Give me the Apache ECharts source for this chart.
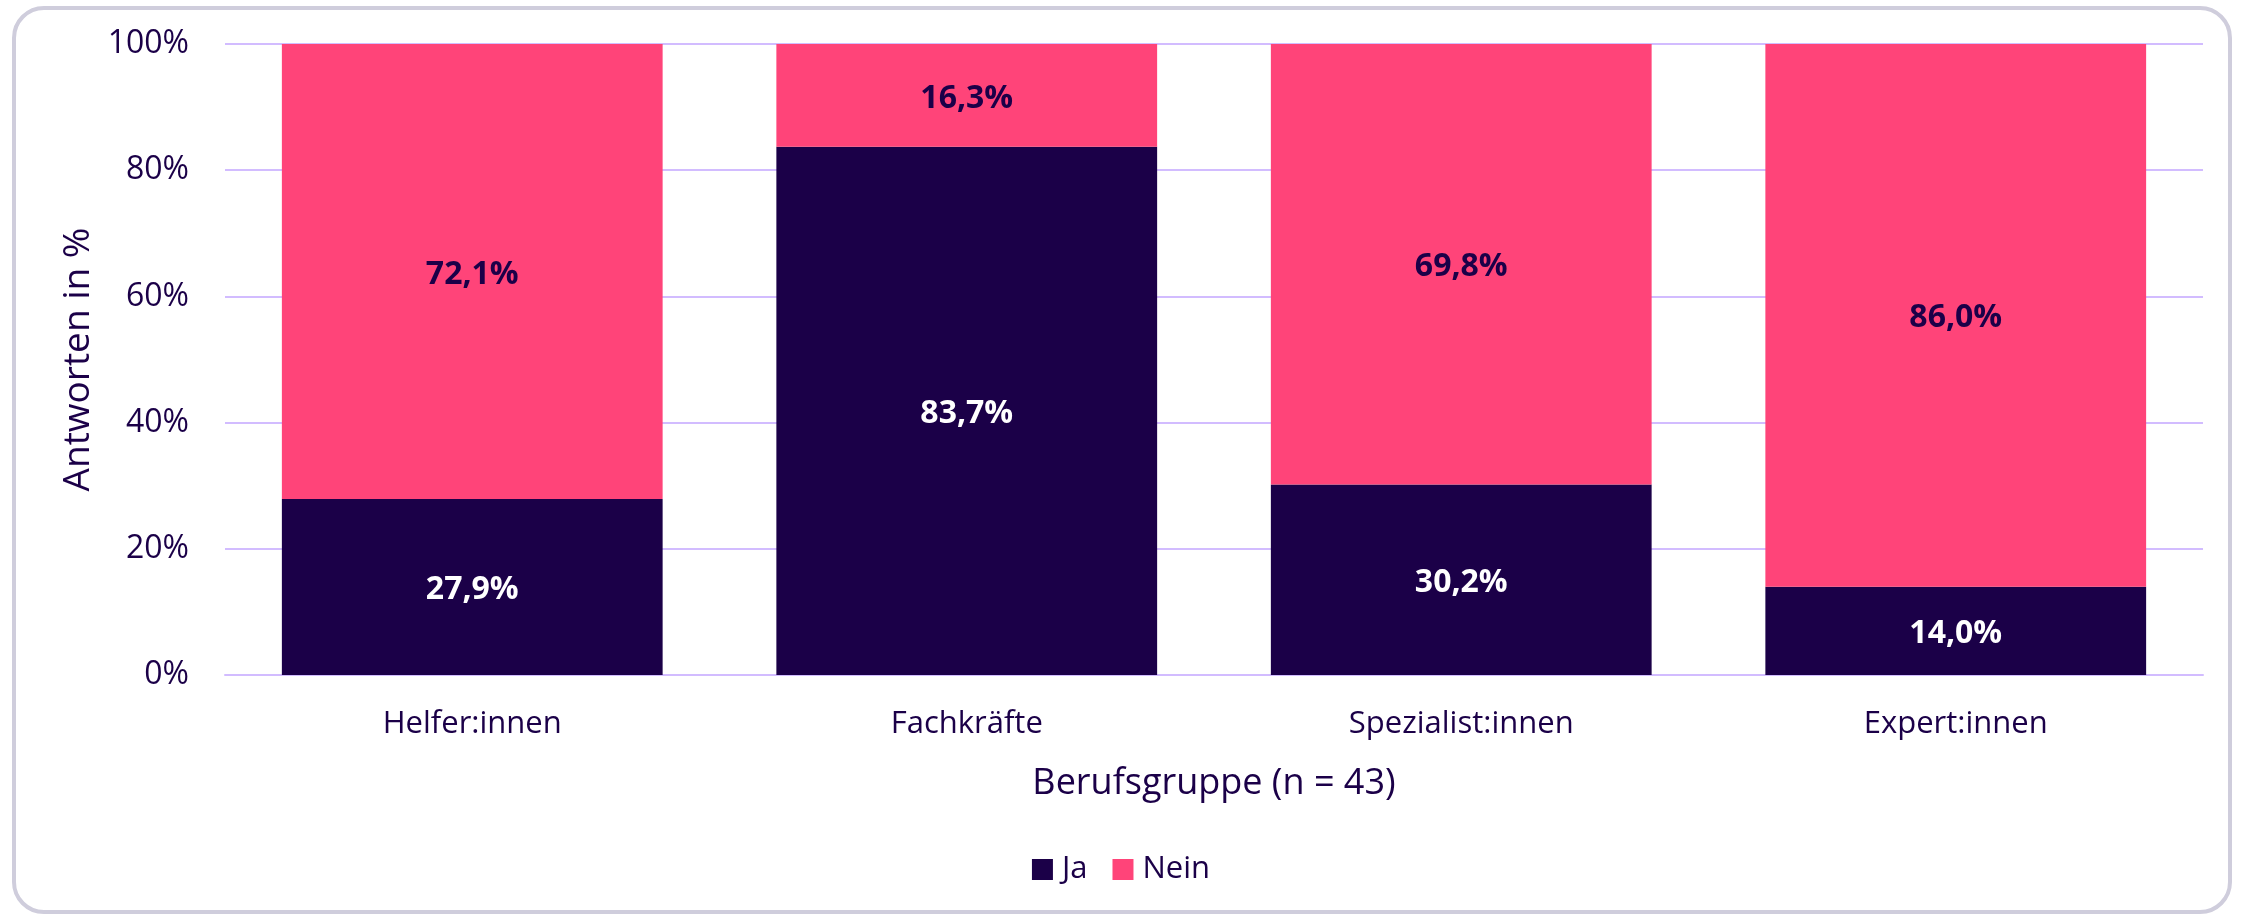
<!DOCTYPE html>
<html>
<head>
<meta charset="utf-8">
<script src="https://cdn.jsdelivr.net/npm/echarts@6/dist/echarts.min.js"></script>
<style>
  html, body { margin: 0; padding: 0; background: #fff; }
  #chart { width: 2242px; height: 916px; }
</style>
</head>
<body>
<div id="chart"></div>
<script>
// Berufsgruppen und Antworten (in %)
var categories = ['Helfer:innen', 'Fachkräfte', 'Spezialist:innen', 'Expert:innen'];
var jaValues = [27.9, 83.7, 30.2, 14.0];
var neinValues = [72.1, 16.3, 69.8, 86.0];
var yTicks = [0, 20, 40, 60, 80, 100];

var dark = '#1b0048';
var pink = '#ff4479';
var gridColor = '#d2bcff';
var font = 'Open Sans';

function pct(p) {
    return p.value.toFixed(1).replace('.', ',') + '%';
}

var myChart = echarts.init(document.getElementById('chart'));

var option = {
    animation: false,
    textStyle: { fontFamily: font, color: dark },
    graphic: [{
        type: 'rect',
        shape: { x: 14, y: 8, width: 2216, height: 904, r: 30 },
        style: { fill: 'none', stroke: '#cfcddc', lineWidth: 4 },
        z: -1
    }],
    grid: { left: 225, right: 39, top: 44, bottom: 241 },
    legend: {
        data: ['Ja', 'Nein'],
        bottom: 26,
        left: 'center',
        itemWidth: 21,
        itemHeight: 21,
        itemGap: 25,
        icon: 'rect',
        textStyle: { fontFamily: font, fontSize: 31, color: dark, padding: [0, 0, 0, 4] }
    },
    xAxis: {
        type: 'category',
        data: categories,
        name: 'Berufsgruppe (n = 43)',
        nameLocation: 'middle',
        nameGap: 91,
        nameTextStyle: { fontFamily: font, fontSize: 36, color: dark },
        axisLine: { lineStyle: { color: gridColor, width: 2 } },
        axisTick: { show: false },
        axisLabel: { margin: 34, fontFamily: font, fontSize: 31, color: dark }
    },
    yAxis: {
        type: 'value',
        min: yTicks[0],
        max: yTicks[yTicks.length - 1],
        interval: 20,
        name: 'Antworten in %',
        nameLocation: 'middle',
        nameGap: 128,
        nameTextStyle: { fontFamily: font, fontSize: 37, color: dark },
        axisLine: { show: false },
        axisTick: { show: false },
        splitLine: { lineStyle: { color: gridColor, width: 2 } },
        axisLabel: { margin: 36, fontFamily: font, fontSize: 32, color: dark, formatter: '{value}%' }
    },
    series: [
        {
            name: 'Ja',
            type: 'bar',
            stack: 'total',
            data: jaValues,
            barCategoryGap: '23%',
            itemStyle: { color: dark },
            label: {
                show: true, position: 'inside', formatter: pct, offset: [0, 3],
                fontFamily: font, fontSize: 32, fontWeight: 'bold', color: '#ffffff'
            }
        },
        {
            name: 'Nein',
            type: 'bar',
            stack: 'total',
            data: neinValues,
            barCategoryGap: '23%',
            itemStyle: { color: pink },
            label: {
                show: true, position: 'inside', formatter: pct, offset: [0, 3],
                fontFamily: font, fontSize: 32, fontWeight: 'bold', color: dark
            }
        }
    ]
};

myChart.setOption(option);
</script>
</body>
</html>
